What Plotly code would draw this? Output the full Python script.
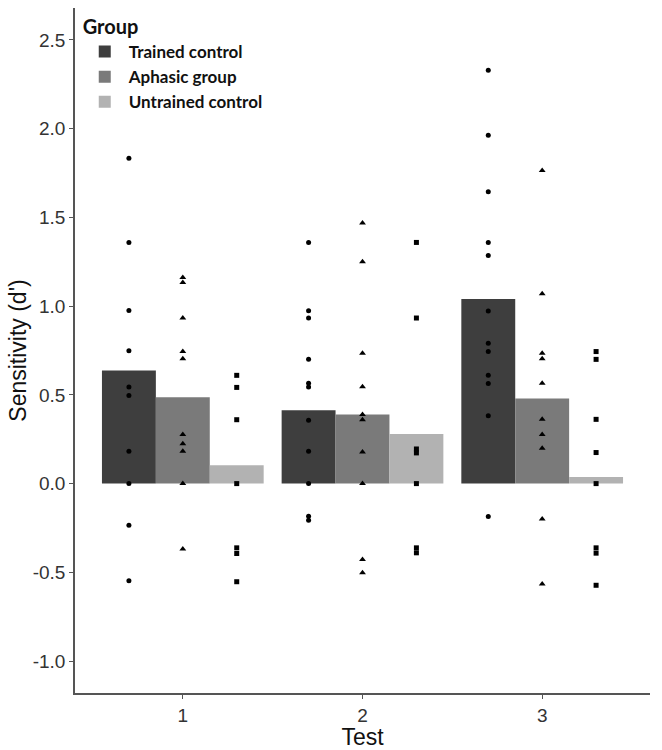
import plotly.graph_objects as go

tests = ["1", "2", "3"]
groups = ["Trained control", "Aphasic group", "Untrained control"]

# Bar heights (group means per test)
bar_trained = [0.638, 0.413, 1.040]
bar_aphasic = [0.486, 0.389, 0.479]
bar_untrained = [0.103, 0.280, 0.037]

# Individual participant scores per test
trained_t1 = [1.834, 1.359, 0.976, 0.749, 0.544, 0.497, 0.182, 0.0, -0.235, -0.548]
trained_t2 = [1.359, 0.974, 0.933, 0.700, 0.565, 0.544, 0.357, 0.182, 0.0, -0.184, -0.207]
trained_t3 = [2.329, 1.963, 1.645, 1.358, 1.285, 0.972, 0.791, 0.744, 0.611, 0.564, 0.382, -0.185]

aphasic_t1 = [1.162, 1.133, 0.933, 0.745, 0.704, 0.276, 0.225, 0.182, 0.0, -0.368]
aphasic_t2 = [1.468, 1.250, 0.734, 0.546, 0.389, 0.360, 0.178, 0.0, -0.428, -0.503]
aphasic_t3 = [1.764, 1.070, 0.734, 0.704, 0.565, 0.362, 0.276, 0.199, -0.200, -0.566]

untrained_t1 = [0.610, 0.542, 0.360, 0.0, -0.362, -0.394, -0.553]
untrained_t2 = [1.359, 0.933, 0.195, 0.173, 0.0, -0.362, -0.390]
untrained_t3 = [0.744, 0.700, 0.362, 0.175, 0.0, -0.362, -0.392, -0.573]

y_ticks = [-1.0, -0.5, 0.0, 0.5, 1.0, 1.5, 2.0, 2.5]

bar_colors = ["#3e3e3e", "#7a7a7a", "#b2b2b2"]
symbols = ["circle", "triangle-up", "square"]
marker_sizes = [5, 6, 5]

bars = [bar_trained, bar_aphasic, bar_untrained]
points = [
    [trained_t1, trained_t2, trained_t3],
    [aphasic_t1, aphasic_t2, aphasic_t3],
    [untrained_t1, untrained_t2, untrained_t3],
]

fig = go.Figure()
for i, g in enumerate(groups):
    fig.add_trace(go.Bar(
        x=tests, y=bars[i], name=f"<b>{g}</b>", offsetgroup=str(i),
        marker=dict(color=bar_colors[i], line=dict(width=0)),
        legendgroup=g,
    ))
for i, g in enumerate(groups):
    xs, ys = [], []
    for t, vals in zip(tests, points[i]):
        xs += [t] * len(vals)
        ys += vals
    fig.add_trace(go.Scatter(
        x=xs, y=ys, mode="markers", offsetgroup=str(i),
        marker=dict(symbol=symbols[i], size=marker_sizes[i], color="black"),
        showlegend=False, legendgroup=g, name=g,
    ))

tick_font = dict(family="Liberation Sans, Arial, sans-serif", size=19, color="#333")
title_font = dict(family="Liberation Sans, Arial, sans-serif", size=23, color="#111")
fig.update_layout(
    width=662, height=750,
    margin=dict(l=75, r=12, t=8, b=57),
    plot_bgcolor="white", paper_bgcolor="white",
    barmode="group", bargap=0.1, bargroupgap=0,
    scattermode="group", scattergap=0.1,
    showlegend=True,
    legend=dict(
        x=0.01, y=1.0, xanchor="left", yanchor="top",
        title=dict(text="<b>Group</b>", font=dict(family="Lato, sans-serif", size=20, color="#111")),
        font=dict(family="Lato, sans-serif", size=17, color="#111"),
        bgcolor="rgba(0,0,0,0)", tracegroupgap=0, itemwidth=38,
    ),
    xaxis=dict(
        type="category", range=[-0.6, 2.6],
        showline=True, linecolor="#555", linewidth=1.5,
        ticks="outside", ticklen=4, tickcolor="#555",
        showgrid=False, zeroline=False, automargin=False,
        tickfont=tick_font,
        title=dict(text="Test", font=title_font, standoff=0),
    ),
    yaxis=dict(
        range=[-1.18, 2.68],
        tickvals=y_ticks, ticktext=[f"{v:.1f}" for v in y_ticks],
        showline=True, linecolor="#555", linewidth=1.5,
        ticks="outside", ticklen=4, tickcolor="#555",
        showgrid=False, zeroline=False, automargin=False,
        tickfont=tick_font,
        title=dict(text="Sensitivity (d')", font=title_font, standoff=0),
    ),
)

fig.write_html("out.html", config={"displayModeBar": False},
               post_script="document.body.style.margin='0';")
